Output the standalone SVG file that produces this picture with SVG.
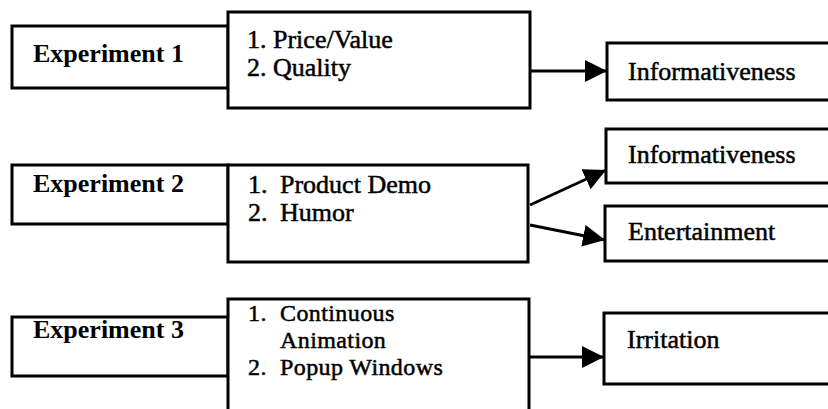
<svg xmlns="http://www.w3.org/2000/svg" width="828" height="409" viewBox="0 0 828 409">
<style>
.box{fill:#fff;stroke:#000;stroke-width:3}
.lbl{font-family:"Liberation Serif","Times New Roman",serif;font-size:26px;font-weight:bold;fill:#000}
.txt{font-family:"Liberation Serif","Times New Roman",serif;font-size:26px;fill:#000;stroke:#000;stroke-width:0.5}
.sm{font-size:24px;letter-spacing:0.4px}
.conn{stroke:#000;stroke-width:3;fill:none}
</style>
<defs>
<marker id="ah" markerUnits="userSpaceOnUse" markerWidth="24" markerHeight="24" refX="22" refY="11" orient="auto">
<path d="M0,0 L22,11 L0,22 z" fill="#000"/>
</marker>
</defs>
<rect width="828" height="409" fill="#fff"/>
<g id="exp1">
<rect class="box" x="12" y="26" width="216" height="62"/>
<text class="lbl" x="33" y="62">Experiment 1</text>
</g>
<g id="factors1">
<rect class="box" x="228" y="12" width="302" height="96"/>
<text class="txt" x="247" y="48">1. Price/Value</text>
<text class="txt" x="247" y="76">2. Quality</text>
</g>
<g id="info1">
<rect class="box" x="607" y="43" width="240" height="57"/>
<text class="txt" x="628" y="80">Informativeness</text>
</g>
<g id="exp2">
<rect class="box" x="12" y="165" width="216" height="59"/>
<text class="lbl" x="33" y="192">Experiment 2</text>
</g>
<g id="factors2">
<rect class="box" x="228" y="165" width="300" height="97"/>
<text class="txt" x="248" y="193">1.</text>
<text class="txt" x="280" y="193">Product Demo</text>
<text class="txt" x="248" y="221">2.</text>
<text class="txt" x="280" y="221">Humor</text>
</g>
<g id="info2">
<rect class="box" x="606" y="129" width="240" height="54"/>
<text class="txt" x="628" y="163">Informativeness</text>
</g>
<g id="ent2">
<rect class="box" x="605" y="206" width="240" height="55"/>
<text class="txt" x="628" y="240">Entertainment</text>
</g>
<g id="exp3">
<rect class="box" x="12" y="317" width="216" height="59"/>
<text class="lbl" x="33" y="338">Experiment 3</text>
</g>
<g id="factors3">
<rect class="box" x="228" y="299" width="301" height="130"/>
<text class="txt sm" x="248" y="321">1.</text>
<text class="txt sm" x="280" y="321">Continuous</text>
<text class="txt sm" x="280" y="348">Animation</text>
<text class="txt sm" x="248" y="375">2.</text>
<text class="txt sm" x="280" y="375">Popup Windows</text>
</g>
<g id="irr3">
<rect class="box" x="604" y="313" width="240" height="71"/>
<text class="txt" x="627" y="348">Irritation</text>
</g>
<g id="connectors">
<line class="conn" x1="530" y1="71" x2="607" y2="71" marker-end="url(#ah)"/>
<line class="conn" x1="530" y1="205" x2="606" y2="170" marker-end="url(#ah)"/>
<line class="conn" x1="530" y1="225" x2="605" y2="240" marker-end="url(#ah)"/>
<line class="conn" x1="529" y1="357" x2="604" y2="357" marker-end="url(#ah)"/>
</g>
</svg>
